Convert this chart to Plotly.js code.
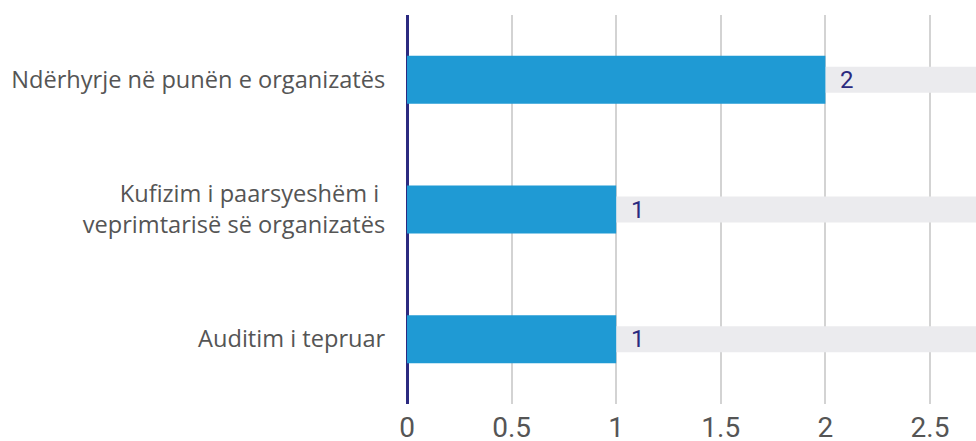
<!DOCTYPE html>
<html>
<head>
<meta charset="utf-8">
<script src="https://cdn.plot.ly/plotly-3.0.1.min.js"></script>
<style>html,body{margin:0;padding:0;background:#fff;}#chart{width:976px;height:441px;}</style>
</head>
<body>
<div id="chart"></div>
<script>
const categories = ["Ndërhyrje në punën e organizatës", "Kufizim i paarsyeshëm i <br>veprimtarisë së organizatës", "Auditim i tepruar"];
const values = [2, 1, 1];
const backgroundValues = [3, 3, 3];
const tickValues = [0, 0.5, 1, 1.5, 2, 2.5];
const tickLabels = ["0", "0.5", "1", "1.5", "2", "2.5"];

const bgTrace = {
  type: 'bar', orientation: 'h', y: categories, x: backgroundValues,
  marker: {color: '#ebebee'}, width: 0.2, hoverinfo: 'skip', showlegend: false
};
const mainTrace = {
  type: 'bar', orientation: 'h', y: categories, x: values,
  marker: {color: '#1f9ad4'}, width: 0.37, showlegend: false
};
const annotations = categories.map((c, i) => ({
  x: values[i], y: c, xref: 'x', yref: 'y', text: String(values[i]),
  showarrow: false, xanchor: 'left', xshift: 13, yshift: 0,
  font: {family: 'Roboto, sans-serif', size: 24, color: '#2b2a80'}
}));
const layout = {
  width: 976, height: 441,
  margin: {l: 407, r: 0, t: 15, b: 37},
  barmode: 'overlay',
  paper_bgcolor: '#fff', plot_bgcolor: '#fff',
  font: {family: 'Roboto, sans-serif', color: '#555'},
  xaxis: {
    range: [0, 2.72], tickvals: tickValues, ticktext: tickLabels,
    showgrid: true, gridcolor: '#d3d3d3', gridwidth: 2,
    zeroline: true, zerolinecolor: '#2b2a80', zerolinewidth: 3,
    tickfont: {size: 28, color: '#555'}, ticks: '', ticklabelstandoff: 4,
    showline: false, fixedrange: true
  },
  yaxis: {
    type: 'category', autorange: 'reversed', showgrid: false, zeroline: false,
    tickfont: {family: '"Open Sans", sans-serif', size: 23.6, color: '#555'},
    ticks: 'outside', ticklen: 16, tickcolor: 'rgba(0,0,0,0)', showline: false
  },
  annotations: annotations
};
Plotly.newPlot('chart', [bgTrace, mainTrace], layout, {displayModeBar: false, staticPlot: true});
</script>
</body>
</html>
